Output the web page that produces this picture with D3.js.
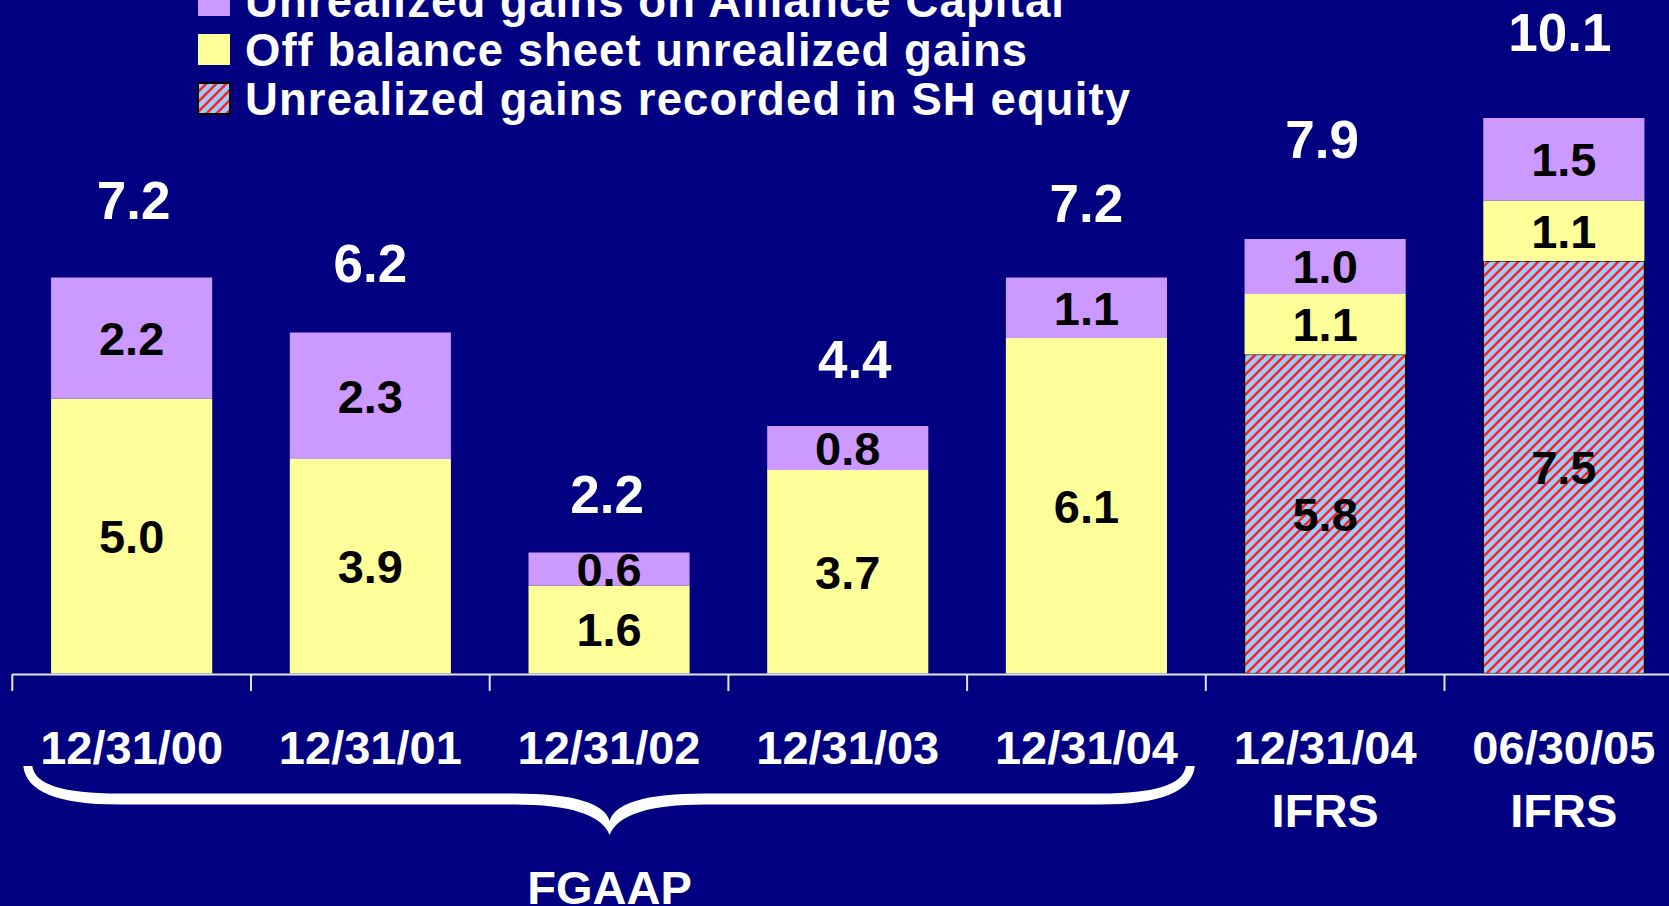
<!DOCTYPE html>
<html><head><meta charset="utf-8">
<script src="https://cdn.jsdelivr.net/npm/d3@7"></script>
<style>
html,body{margin:0;padding:0;background:#000080;overflow:hidden;}
svg{display:block;}
text{font-family:"Liberation Sans",Arial,Helvetica,sans-serif;font-weight:bold;}
</style></head>
<body>
<svg id="chart" width="1669" height="906"></svg>
<script>
// ---- data ----
const categories = ["12/31/00","12/31/01","12/31/02","12/31/03","12/31/04","12/31/04","06/30/05"];
const subLabels  = ["","","","","","IFRS","IFRS"];
const shEquity   = [0,0,0,0,0,5.8,7.5];
const offBalance = [5.0,3.9,1.6,3.7,6.1,1.1,1.1];
const alliance   = [2.2,2.3,0.6,0.8,1.1,1.0,1.5];
const totals     = [7.2,6.2,2.2,4.4,7.2,7.9,10.1];
const seriesNames = ["Unrealized gains recorded in SH equity","Off balance sheet unrealized gains","Unrealized gains on Alliance Capital"];
const groupLabel = "FGAAP";

// ---- layout (not data) ----
const totalLift = [59,51,40,54,56,81,67];
const totalShift = [2,0,-2,7,0,-3,-4];
const W = 1669, H = 906;
const svg = d3.select("#chart");
svg.append("rect").attr("width",W).attr("height",H).attr("fill","#000080");

const defs = svg.append("defs");
const pat = defs.append("pattern").attr("id","hatch").attr("patternUnits","userSpaceOnUse")
  .attr("width",10).attr("height",10);
pat.append("rect").attr("width",10).attr("height",10).attr("fill","#99CCFF");
pat.append("path").attr("d","M-2,2 L2,-2 M0,10 L10,0 M8,12 L12,8")
  .attr("stroke","#FF2020").attr("stroke-width",2.6);

const colors = ["url(#hatch)","#FFFF99","#CC99FF"];
const keys = ["sh","off","all"];
const rows = categories.map((c,i)=>({i, sh:shEquity[i], off:offBalance[i], all:alliance[i]}));
const stack = d3.stack().keys(keys)(rows);

const x = d3.scaleBand().domain(d3.range(categories.length))
  .range([12.3, 12.3 + 7*238.7]).paddingInner(0.325).paddingOuter(0.1625);
const y = d3.scaleLinear().domain([0,10]).range([673.5, 123.5]);

// bars
stack.forEach((layer,k)=>{
  const g = svg.append("g");
  g.selectAll("rect").data(layer.filter(d=>d[1]-d[0]>0)).enter().append("rect")
    .attr("x",d=>x(d.data.i)).attr("width",x.bandwidth())
    .attr("y",d=>y(d[1])).attr("height",d=>y(d[0])-y(d[1]))
    .attr("fill",colors[k])
    .attr("stroke",k===0?"#000":"none")
    .attr("stroke-width",1.2);
});
// segment labels
stack.forEach((layer,k)=>{
  svg.append("g").selectAll("text").data(layer.filter(d=>d[1]-d[0]>0)).enter().append("text")
    .attr("x",d=>x(d.data.i)+x.bandwidth()/2)
    .attr("y",d=>(y(d[0])+y(d[1]))/2)
    .attr("dy","0.36em").attr("text-anchor","middle")
    .attr("font-size",47).attr("fill","#000")
    .text(d=>d3.format(".1f")(d[1]-d[0]));
});
// totals
svg.append("g").selectAll("text").data(totals).enter().append("text")
  .attr("x",(d,i)=>x(i)+x.bandwidth()/2+totalShift[i])
  .attr("y",(d,i)=>y(d)-totalLift[i])
  .attr("text-anchor","middle").attr("font-size",53).attr("fill","#fff")
  .text(d=>d3.format(".1f")(d));

// axis
const step = x.step();
const x0 = x.range()[0];
svg.append("line").attr("x1",x0).attr("x2",W).attr("y1",674.5).attr("y2",674.5)
  .attr("stroke","#E4E4F0").attr("stroke-width",2);
svg.append("g").selectAll("line").data(d3.range(categories.length)).enter().append("line")
  .attr("x1",i=>x0+i*step).attr("x2",i=>x0+i*step)
  .attr("y1",674).attr("y2",691).attr("stroke","#E4E4F0").attr("stroke-width",2);
// category labels
svg.append("g").selectAll("text").data(categories).enter().append("text")
  .attr("x",(d,i)=>x(i)+x.bandwidth()/2).attr("y",764)
  .attr("text-anchor","middle").attr("font-size",47).attr("fill","#fff").text(d=>d);
svg.append("g").selectAll("text").data(subLabels).enter().append("text")
  .attr("x",(d,i)=>x(i)+x.bandwidth()/2).attr("y",827)
  .attr("text-anchor","middle").attr("font-size",47).attr("fill","#fff").text(d=>d);

// brace under first five categories
const xL = x0 + 11, xR = x0 + 5*step - 11, xm = (xL+xR)/2 + 0.5;
const yTop = 766, yMid = 799, yTip = 835, t = 5.5;
const brace = [
  `M${xL},${yTop}`,
  `Q${xL+4},${yMid+t} ${xL+95},${yMid+t}`,
  `L${xm-95},${yMid+t}`,
  `Q${xm-12},${yMid+t} ${xm},${yTip}`,
  `Q${xm+12},${yMid+t} ${xm+95},${yMid+t}`,
  `L${xR-95},${yMid+t}`,
  `Q${xR-4},${yMid+t} ${xR},${yTop}`,
  `L${xR-9},${yTop}`,
  `Q${xR-12},${yMid-t} ${xR-95},${yMid-t}`,
  `L${xm+95},${yMid-t}`,
  `Q${xm+8},${yMid-t} ${xm},${yTip-14}`,
  `Q${xm-8},${yMid-t} ${xm-95},${yMid-t}`,
  `L${xL+95},${yMid-t}`,
  `Q${xL+12},${yMid-t} ${xL+9},${yTop}`,
  "Z"].join(" ");
svg.append("path").attr("d",brace).attr("fill","#fff");
svg.append("text").attr("x",xm).attr("y",904).attr("text-anchor","middle")
  .attr("font-size",47).attr("fill","#fff").text(groupLabel);

// legend (top to bottom: Alliance, Off balance, SH equity)
const legendOrder = [2,1,0];
const legendWidths = [819,782,885];
const lg = svg.append("g");
legendOrder.forEach((k,r)=>{
  const top = -15 + r*49;
  lg.append("rect").attr("x",198).attr("y",top).attr("width",32).attr("height",31)
    .attr("fill",colors[k]).attr("stroke",k===0?"#000":"none").attr("stroke-width",2);
  lg.append("text").attr("x",245).attr("y",top+32).attr("font-size",45.5).attr("fill","#fff")
    .attr("textLength",legendWidths[r]).attr("lengthAdjust","spacing")
    .text(seriesNames[k]);
});
</script>
</body></html>
